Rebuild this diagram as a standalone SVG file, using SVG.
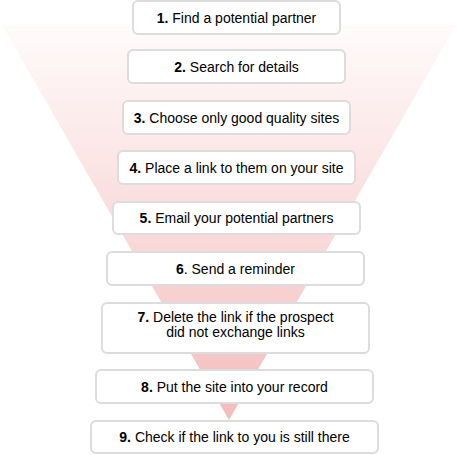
<svg xmlns="http://www.w3.org/2000/svg" width="458" height="455" viewBox="0 0 458 455">
<style>
.box{fill:#fff;stroke:#dcdcdc;stroke-width:2}
.t{font-family:"Liberation Sans",Arial,sans-serif;font-size:14px;fill:#000;text-anchor:middle}
.b{font-weight:bold}
</style>
<defs>
<linearGradient id="fg" x1="0" y1="25" x2="0" y2="420" gradientUnits="userSpaceOnUse">
<stop offset="0" stop-color="#fffbfb"/>
<stop offset="1" stop-color="#f4bcbc"/>
</linearGradient>
</defs>
<g id="funnel"><polygon points="2,25 456,25 229,420" fill="url(#fg)"/></g>
<g id="connectors"></g>
<g id="n1"><rect class="box" x="133" y="1" width="207" height="33" rx="5"/><text class="t" x="236.5" y="22.5"><tspan class="b">1.</tspan> Find a potential partner</text></g>
<g id="n2"><rect class="box" x="128" y="50" width="217" height="33" rx="5"/><text class="t" x="236.5" y="72"><tspan class="b">2.</tspan> Search for details</text></g>
<g id="n3"><rect class="box" x="123" y="101" width="227" height="33" rx="5"/><text class="t" x="236.5" y="122.5"><tspan class="b">3.</tspan> Choose only good quality sites</text></g>
<g id="n4"><rect class="box" x="118" y="151" width="237" height="33" rx="5"/><text class="t" x="236.5" y="172.5"><tspan class="b">4.</tspan> Place a link to them on your site</text></g>
<g id="n5"><rect class="box" x="113" y="202" width="247" height="32" rx="5"/><text class="t" x="236.5" y="223"><tspan class="b">5.</tspan> Email your potential partners</text></g>
<g id="n6"><rect class="box" x="107" y="252" width="257" height="33" rx="5"/><text class="t" x="235.5" y="273.5"><tspan class="b">6</tspan>. Send a reminder</text></g>
<g id="n7"><rect class="box" x="102" y="303" width="267" height="50" rx="5"/><text class="t" x="235.5" y="322"><tspan class="b">7.</tspan> Delete the link if the prospect</text><text class="t" x="235.5" y="337">did not exchange links</text></g>
<g id="n8"><rect class="box" x="96" y="370" width="277" height="33" rx="5"/><text class="t" x="234.5" y="391.5"><tspan class="b">8.</tspan> Put the site into your record</text></g>
<g id="n9"><rect class="box" x="91" y="421" width="287" height="32" rx="5"/><text class="t" x="234.5" y="442"><tspan class="b">9.</tspan> Check if the link to you is still there</text></g>
</svg>
